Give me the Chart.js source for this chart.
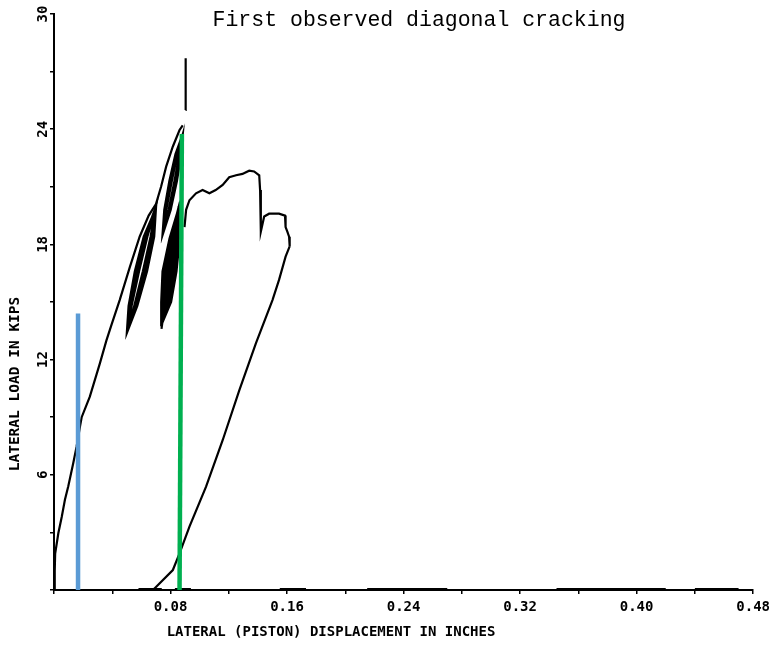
<!DOCTYPE html>
<html>
<head>
<meta charset="utf-8">
<script src="https://cdn.jsdelivr.net/npm/chart.js@4.4.1/dist/chart.umd.min.js"></script>
<style>
  html, body { margin: 0; padding: 0; background: #fff; }
  #wrap { width: 775px; height: 645px; position: relative; }
</style>
</head>
<body>
<div id="wrap"><canvas id="c" width="775" height="645"></canvas></div>
<script>
// ---- text ----
const chartTitle = "First observed diagonal cracking";
const xAxisTitle = "LATERAL (PISTON) DISPLACEMENT IN INCHES";
const yAxisTitle = "LATERAL LOAD IN KIPS";
const xTickValues = [0.08, 0.16, 0.24, 0.32, 0.40, 0.48];
const xTickLabels = ["0.08", "0.16", "0.24", "0.32", "0.40", "0.48"];
const yTickValues = [6, 12, 18, 24, 30];
const yTickLabels = ["6", "12", "18", "24", "30"];

// ---- data (displacement in inches, load in kips) ----
const envelopeX = [0, 0.0005, 0.0008, 0.003, 0.0053, 0.0075, 0.0098, 0.0132, 0.0155, 0.0178, 0.019, 0.0246, 0.0315, 0.036, 0.0394, 0.0451, 0.052, 0.0588, 0.065, 0.070, 0.0735, 0.077, 0.0816, 0.0862, 0.0884];
const envelopeY = [0, 1.0, 1.9, 2.97, 3.8, 4.7, 5.4, 6.6, 7.46, 8.5, 9.0, 10.07, 11.8, 13.0, 13.8, 15.1, 16.8, 18.4, 19.5, 20.1, 21.0, 22.05, 23.1, 23.96, 24.2];

const spikeX = [0.0903, 0.0905, 0.0903];
const spikeY = [25.0, 26.3, 27.7];

// first load cycles (lower left cluster)
const band1X = [0.0700, 0.0688, 0.0639, 0.0572, 0.0500, 0.0512, 0.0555, 0.0616,
                0.0695, 0.0679, 0.0629, 0.0565, 0.0506, 0.0519, 0.0566, 0.0625,
                0.0702, 0.0670, 0.0618, 0.0557, 0.0502, 0.0527, 0.0576, 0.0634,
                0.0690, 0.0684, 0.0635, 0.0569, 0.0512, 0.0515, 0.0559, 0.0620,
                0.0698, 0.0663, 0.0610, 0.0551, 0.0504, 0.0533, 0.0584, 0.0641,
                0.0693, 0.0675, 0.0624, 0.0562, 0.0509, 0.0523, 0.0570, 0.0629,
                0.0701, 0.0688, 0.0639, 0.0572, 0.0501, 0.0512, 0.0555, 0.0616,
                0.0697, 0.0679, 0.0629, 0.0565, 0.0507, 0.0519, 0.0566, 0.0625, 0.0700];
const band1Y = [20.0, 18.4, 16.6, 14.8, 13.4, 14.8, 16.6, 18.4,
                19.8, 18.4, 16.6, 14.8, 13.6, 14.8, 16.6, 18.4,
                20.05, 18.4, 16.6, 14.8, 13.5, 14.8, 16.6, 18.4,
                19.7, 18.4, 16.6, 14.8, 13.85, 14.8, 16.6, 18.4,
                19.9, 18.4, 16.6, 14.8, 13.45, 14.8, 16.6, 18.4,
                19.75, 18.4, 16.6, 14.8, 13.7, 14.8, 16.6, 18.4,
                20.0, 18.4, 16.6, 14.8, 13.4, 14.8, 16.6, 18.4,
                19.85, 18.4, 16.6, 14.8, 13.6, 14.8, 16.6, 18.4, 20.0];

// later load cycles (lower right cluster)
const band2X = [0.0738,
                0.0855, 0.0863, 0.0841, 0.0804, 0.0737, 0.0736, 0.0745, 0.0793,
                0.0850, 0.0853, 0.0827, 0.0794, 0.0742, 0.0746, 0.0759, 0.0804,
                0.0858, 0.0844, 0.0815, 0.0785, 0.0739, 0.0755, 0.0771, 0.0812,
                0.0846, 0.0860, 0.0836, 0.0801, 0.0748, 0.0739, 0.0750, 0.0797,
                0.0860, 0.0837, 0.0805, 0.0779, 0.0738, 0.0762, 0.0781, 0.0819,
                0.0852, 0.0849, 0.0822, 0.0790, 0.0744, 0.0750, 0.0764, 0.0807,
                0.0857, 0.0856, 0.0831, 0.0797, 0.0740, 0.0743, 0.0755, 0.0800,
                0.0854, 0.0863, 0.0841, 0.0804, 0.0737, 0.0736, 0.0745, 0.0793, 0.0856];
const band2Y = [13.6,
                19.95, 18.3, 16.6, 15.0, 13.8, 15.0, 16.6, 18.3,
                19.7, 18.3, 16.6, 15.0, 14.0, 15.0, 16.6, 18.3,
                19.9, 18.3, 16.6, 15.0, 13.85, 15.0, 16.6, 18.3,
                19.5, 18.3, 16.6, 15.0, 14.2, 15.0, 16.6, 18.3,
                19.95, 18.3, 16.6, 15.0, 13.8, 15.0, 16.6, 18.3,
                19.8, 18.3, 16.6, 15.0, 14.05, 15.0, 16.6, 18.3,
                19.85, 18.3, 16.6, 15.0, 13.9, 15.0, 16.6, 18.3,
                19.9, 18.3, 16.6, 15.0, 13.8, 15.0, 16.6, 18.3, 19.9];

// upper cycles before the peak
const band3X = [0.0882, 0.0874, 0.0844, 0.0801, 0.0745, 0.0757, 0.0792, 0.0834,
                0.0878, 0.0866, 0.0834, 0.0792, 0.0752, 0.0766, 0.0802, 0.0842,
                0.0884, 0.0871, 0.0840, 0.0798, 0.0748, 0.0760, 0.0796, 0.0837,
                0.0875, 0.0861, 0.0827, 0.0787, 0.0760, 0.0771, 0.0809, 0.0847,
                0.0880, 0.0869, 0.0838, 0.0796, 0.0750, 0.0763, 0.0799, 0.0839,
                0.0882, 0.0874, 0.0844, 0.0801, 0.0746, 0.0757, 0.0792, 0.0834, 0.0882];
const band3Y = [23.7, 22.7, 21.3, 19.8, 18.5, 19.8, 21.3, 22.7,
                23.5, 22.7, 21.3, 19.8, 18.8, 19.8, 21.3, 22.7,
                23.75, 22.7, 21.3, 19.8, 18.6, 19.8, 21.3, 22.7,
                23.3, 22.7, 21.3, 19.8, 19.2, 19.8, 21.3, 22.7,
                23.6, 22.7, 21.3, 19.8, 18.7, 19.8, 21.3, 22.7,
                23.7, 22.7, 21.3, 19.8, 18.5, 19.8, 21.3, 22.7, 23.7];

const postPeakX = [0.0896, 0.0907, 0.093, 0.0975, 0.102, 0.1067, 0.111, 0.1158, 0.1203, 0.125, 0.1294, 0.134, 0.1374, 0.1409, 0.1415, 0.142, 0.1443, 0.1477, 0.1545, 0.1586, 0.159, 0.1602, 0.1614, 0.1618, 0.159, 0.1545, 0.150, 0.1386, 0.1272, 0.1158, 0.1044, 0.093, 0.0862, 0.0816, 0.0702, 0.0679];
const postPeakY = [18.9, 19.8, 20.3, 20.66, 20.83, 20.66, 20.83, 21.1, 21.5, 21.6, 21.67, 21.84, 21.8, 21.6, 20.83, 18.66, 19.45, 19.6, 19.6, 19.5, 18.9, 18.66, 18.4, 17.9, 17.36, 16.15, 15.1, 12.85, 10.4, 7.8, 5.38, 3.3, 1.91, 1.04, 0.17, 0];

const baseX = [0.058, 0.074, null, 0.083, 0.094, null, 0.155, 0.173, null, 0.215, 0.27, null, 0.345, 0.42, null, 0.44, 0.47];
const baseY = [0.05, 0.05, null, 0.05, 0.05, null, 0.05, 0.05, null, 0.05, 0.05, null, 0.05, 0.05, null, 0.05, 0.05];

const blueX = [0.0165, 0.0165];
const blueY = [0, 14.4];
const greenX = [0.0862, 0.0878];
const greenY = [0, 23.75];

function pts(xs, ys) { return xs.map((x, i) => (x === null ? { x: NaN, y: NaN } : { x: x, y: ys[i] })); }

const FONT_MONO = "'DejaVu Sans Mono', 'Liberation Mono', monospace";

const overlayText = {
  id: 'overlayText',
  afterDraw(chart) {
    const ctx = chart.ctx;
    const ys = chart.scales.y;
    ctx.save();
    ctx.fillStyle = '#000';
    // title
    ctx.font = "21.5px 'Liberation Mono', 'DejaVu Sans Mono', monospace";
    ctx.textAlign = 'center';
    ctx.textBaseline = 'alphabetic';
    ctx.fillText(chartTitle, 419, 26);
    // x axis title
    ctx.font = "bold 14px " + FONT_MONO;
    ctx.textBaseline = 'middle';
    ctx.fillText(xAxisTitle, 331, 632);
    // y axis title (rotated)
    ctx.save();
    ctx.translate(15, 384);
    ctx.rotate(-Math.PI / 2);
    ctx.font = "bold 14.5px " + FONT_MONO;
    ctx.fillText(yAxisTitle, 0, 0);
    ctx.restore();
    // y tick labels (rotated)
    ctx.font = "bold 14px " + FONT_MONO;
    yTickValues.forEach((v, i) => {
      const py = ys.getPixelForValue(v);
      ctx.save();
      ctx.translate(43, py);
      ctx.rotate(-Math.PI / 2);
      ctx.fillText(yTickLabels[i], 0, 0);
      ctx.restore();
    });
    ctx.restore();
  }
};

const black = '#000';
const lineDs = (label, xs, ys, w) => ({
  label: label, data: pts(xs, ys), borderColor: black, backgroundColor: black,
  borderWidth: w, pointRadius: 0, showLine: true, tension: 0, spanGaps: false
});

new Chart(document.getElementById('c'), {
  type: 'scatter',
  data: {
    datasets: [
      { label: 'green', data: pts(greenX, greenY), borderColor: '#00b050', borderWidth: 4.5, pointRadius: 0, showLine: true },
      { label: 'blue', data: pts(blueX, blueY), borderColor: '#5b9bd5', borderWidth: 4.5, pointRadius: 0, showLine: true },
      lineDs('envelope', envelopeX, envelopeY, 2.2),
      lineDs('spike', spikeX, spikeY, 2.2),
      lineDs('band1', band1X, band1Y, 2.2),
      lineDs('band2', band2X, band2Y, 2.2),
      lineDs('band3', band3X, band3Y, 2.2),
      lineDs('postPeak', postPeakX, postPeakY, 2.2),
      lineDs('base', baseX, baseY, 2)
    ]
  },
  options: {
    responsive: false,
    animation: false,
    events: [],
    layout: { padding: { top: 14, right: 19, left: 0, bottom: 0 } },
    plugins: { legend: { display: false }, title: { display: false }, tooltip: { enabled: false } },
    scales: {
      x: {
        type: 'linear', min: 0, max: 0.48,
        border: { display: true, color: black, width: 2 },
        grid: { display: true, drawOnChartArea: false, drawTicks: true, tickLength: 4, color: black, lineWidth: 1.5 },
        ticks: {
          stepSize: 0.04, color: black, padding: 5, maxRotation: 0, autoSkip: false,
          font: { family: FONT_MONO, size: 14, weight: 'bold' },
          callback: function (v) {
            const idx = xTickValues.findIndex(t => Math.abs(t - v) < 1e-6);
            return idx >= 0 ? xTickLabels[idx] : '';
          }
        },
        afterFit: function (s) { s.height = 55; }
      },
      y: {
        type: 'linear', min: 0, max: 30,
        border: { display: true, color: black, width: 2 },
        grid: { display: true, drawOnChartArea: false, drawTicks: true, tickLength: 4, color: black, lineWidth: 1.5 },
        ticks: { stepSize: 3, autoSkip: false, callback: function () { return ''; } },
        afterFit: function (s) { s.width = 54; }
      }
    }
  },
  plugins: [overlayText]
});
</script>
</body>
</html>
